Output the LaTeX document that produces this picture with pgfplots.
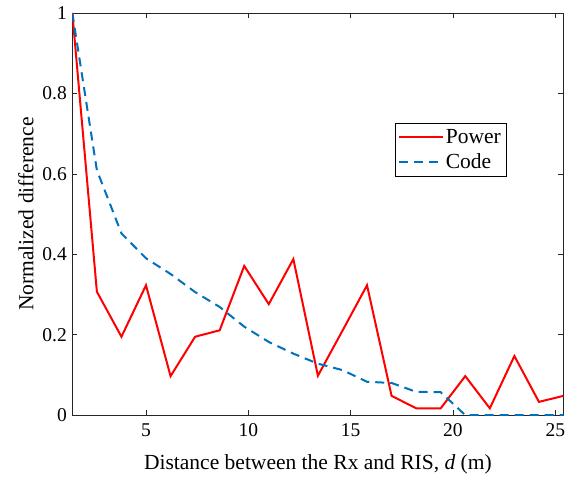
\documentclass[border=0pt]{standalone}
\usepackage{fontspec}
\setmainfont{Liberation Serif}
\usepackage{pgfplots}
\pgfplotsset{compat=1.18}
\definecolor{mblue}{RGB}{0,114,189}
\definecolor{axgray}{RGB}{38,38,38}
\newcommand{\fs}{\fontsize{21.5}{25}\selectfont}
\newcommand{\ft}{\fontsize{19.5}{23}\selectfont}
\begin{document}
\begin{tikzpicture}
\begin{axis}[
  name=ax,
  scale only axis,
  width=491pt, height=402pt,
  xmin=1.4, xmax=25.4, ymin=0, ymax=1,
  xtick={5,10,15,20,25},
  ytick={0,0.2,0.4,0.6,0.8,1},
  yticklabels={0,0.2,0.4,0.6,0.8,1},
  tick align=inside,
  major tick length=5pt,
  axis line style={axgray, line width=0.6pt},
  tick style={axgray, line width=0.6pt},
  every tick label/.append style={font=\ft, text=black},
  xticklabel style={yshift=-5pt},
  yticklabel style={xshift=-2pt},
  /pgf/number format/assume math mode=true,
  xlabel={Distance between the Rx and RIS, \textit{d} (m)},
  ylabel={Normalized difference},
  label style={font=\fs},
  xlabel style={yshift=-11pt},
  ylabel style={yshift=2pt},
  legend style={at={(0.656,0.727)}, anchor=north west, draw=black, line width=0.6pt,
    font=\fs, inner xsep=3pt, inner ysep=4pt, row sep=5pt, cells={anchor=west}},
  legend cell align=left,
  legend image code/.code={\draw[#1] (0pt,0pt) -- (44pt,0pt);},
]
\addplot[red, line width=2pt] coordinates {
(1.4,1.0) (2.6,0.307) (3.8,0.195) (5.0,0.323) (6.2,0.097) (7.4,0.195) (8.6,0.211)
(9.8,0.371) (11.0,0.276) (12.2,0.388) (13.4,0.098) (14.6,0.21) (15.8,0.323)
(17.0,0.048) (18.2,0.017) (19.4,0.017) (20.6,0.097) (21.8,0.017) (23.0,0.147)
(24.2,0.033) (25.4,0.048)};
\addlegendentry{Power}
\addplot[mblue, line width=2pt, dash pattern=on 9pt off 6pt] coordinates {
(1.4,1.0) (2.6,0.609) (3.8,0.452) (5.0,0.39) (6.2,0.351) (7.4,0.306) (8.6,0.269)
(9.8,0.22) (11.0,0.182) (12.2,0.153) (13.4,0.128) (14.6,0.112) (15.8,0.083)
(17.0,0.08) (18.2,0.058) (19.4,0.057) (20.6,0.0) (21.8,0.0) (23.0,0.0)
(24.2,0.0) (25.4,0.0)};
\addlegendentry{Code}
\end{axis}
\path ([shift={(-72.3pt,-61pt)}]ax.south west) rectangle ([shift={(6.5pt,13pt)}]ax.north east);
\end{tikzpicture}
\end{document}
